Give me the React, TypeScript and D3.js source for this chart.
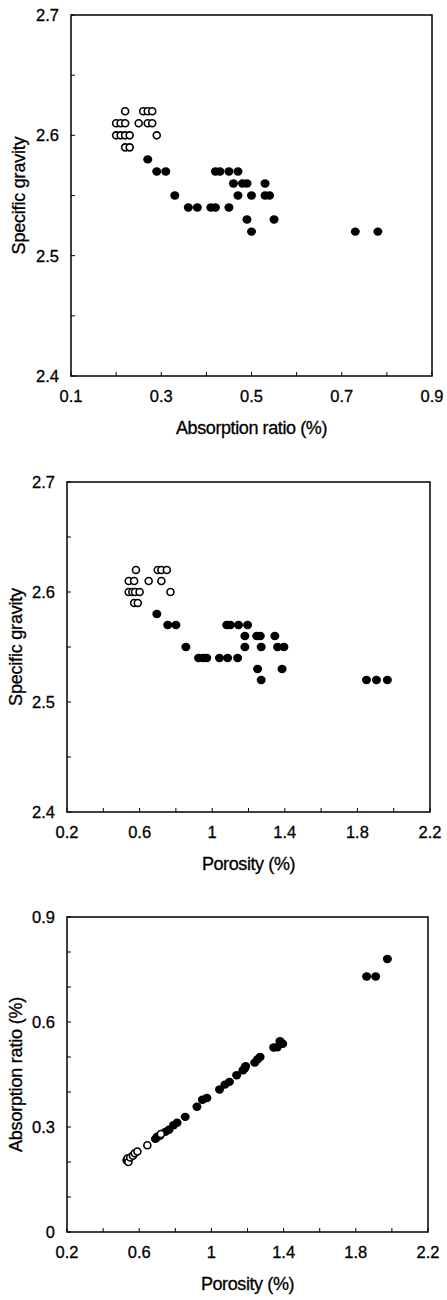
import React from "react";
import * as d3 from "d3";

// ---------- Plot 1: Absorption ratio (%) vs Specific gravity ----------
const p1OpenAbs = [0.22, 0.26, 0.27, 0.28, 0.2, 0.21, 0.22, 0.25, 0.27, 0.28, 0.2, 0.21, 0.22, 0.23, 0.29, 0.22, 0.23];
const p1OpenSG = [2.62, 2.62, 2.62, 2.62, 2.61, 2.61, 2.61, 2.61, 2.61, 2.61, 2.6, 2.6, 2.6, 2.6, 2.6, 2.59, 2.59];
const p1FillAbs = [0.27, 0.29, 0.31, 0.42, 0.43, 0.45, 0.47, 0.46, 0.48, 0.49, 0.53, 0.33, 0.47, 0.5, 0.53, 0.54, 0.36, 0.38, 0.41, 0.42, 0.45, 0.49, 0.55, 0.5, 0.73, 0.78];
const p1FillSG = [2.58, 2.57, 2.57, 2.57, 2.57, 2.57, 2.57, 2.56, 2.56, 2.56, 2.56, 2.55, 2.55, 2.55, 2.55, 2.55, 2.54, 2.54, 2.54, 2.54, 2.54, 2.53, 2.53, 2.52, 2.52, 2.52];

// ---------- Plot 2: Porosity (%) vs Specific gravity ----------
const p2OpenPor = [0.58, 0.7, 0.72, 0.75, 0.54, 0.57, 0.65, 0.72, 0.54, 0.56, 0.575, 0.6, 0.77, 0.57, 0.59];
const p2OpenSG = [2.62, 2.62, 2.62, 2.62, 2.61, 2.61, 2.61, 2.61, 2.6, 2.6, 2.6, 2.6, 2.6, 2.59, 2.59];
const p2FillPor = [0.695, 0.755, 0.8, 1.08, 1.1, 1.145, 1.195, 1.18, 1.245, 1.265, 1.345, 0.855, 1.18, 1.27, 1.36, 1.395, 0.925, 0.95, 0.97, 1.04, 1.085, 1.14, 1.25, 1.385, 1.27, 1.85, 1.905, 1.965];
const p2FillSG = [2.58, 2.57, 2.57, 2.57, 2.57, 2.57, 2.57, 2.56, 2.56, 2.56, 2.56, 2.55, 2.55, 2.55, 2.55, 2.55, 2.54, 2.54, 2.54, 2.54, 2.54, 2.54, 2.53, 2.53, 2.52, 2.52, 2.52, 2.52];

// ---------- Plot 3: Porosity (%) vs Absorption ratio (%) ----------
const p3OpenPor = [0.53, 0.535, 0.54, 0.55, 0.565, 0.575, 0.59, 0.645, 0.72];
const p3OpenAbs = [0.205, 0.21, 0.2, 0.213, 0.218, 0.225, 0.23, 0.248, 0.28];
const p3FillPor = [0.69, 0.7, 0.715, 0.745, 0.765, 0.79, 0.81, 0.855, 0.92, 0.95, 0.975, 1.045, 1.075, 1.1, 1.14, 1.175, 1.185, 1.19, 1.24, 1.255, 1.27, 1.345, 1.365, 1.38, 1.395, 1.86, 1.91, 1.975];
const p3FillAbs = [0.266, 0.272, 0.275, 0.286, 0.292, 0.305, 0.312, 0.329, 0.358, 0.378, 0.383, 0.407, 0.421, 0.429, 0.448, 0.462, 0.468, 0.474, 0.484, 0.493, 0.5, 0.527, 0.528, 0.545, 0.538, 0.73, 0.73, 0.78];

// ---------- Axis definitions ----------
const sgTicks = [2.4, 2.45, 2.5, 2.55, 2.6, 2.65, 2.7];
const sgLabels = [2.4, 2.5, 2.6, 2.7];
const absXTicks = [0.1, 0.2, 0.3, 0.4, 0.5, 0.6, 0.7, 0.8, 0.9];
const absXLabels = [0.1, 0.3, 0.5, 0.7, 0.9];
const porTicks = [0.2, 0.4, 0.6, 0.8, 1.0, 1.2, 1.4, 1.6, 1.8, 2.0, 2.2];
const porLabels = [0.2, 0.6, 1.0, 1.4, 1.8, 2.2];
const absYTicks = [0, 0.1, 0.2, 0.3, 0.4, 0.5, 0.6, 0.7, 0.8, 0.9];
const absYLabels = [0, 0.3, 0.6, 0.9];

const FONT = "'Liberation Sans', Arial, Helvetica, sans-serif";

type PanelProps = {
  left: number; right: number; top: number; bottom: number;
  xDomain: [number, number]; yDomain: [number, number];
  xTicks: number[]; xLabels: number[]; yTicks: number[]; yLabels: number[];
  xTitle: string; yTitle: string; yTitleX: number;
  openX: number[]; openY: number[]; fillX: number[]; fillY: number[];
};

const fmt = (v: number) => d3.format("~g")(+v.toFixed(3));

function Panel(p: PanelProps) {
  const x = d3.scaleLinear().domain(p.xDomain).range([p.left, p.right]);
  const y = d3.scaleLinear().domain(p.yDomain).range([p.bottom, p.top]);
  const tickLen = 4;
  const textStyle = { fontFamily: FONT, fill: "#000", stroke: "#000", strokeWidth: 0.3 };
  return (
    <g>
      <rect x={p.left} y={p.top} width={p.right - p.left} height={p.bottom - p.top}
        fill="none" stroke="#000" strokeWidth={1.5} />
      {p.xTicks.map((t, i) => (
        <line key={"xt" + i} x1={x(t)} x2={x(t)} y1={p.bottom} y2={p.bottom - tickLen} stroke="#000" strokeWidth={1} />
      ))}
      {p.yTicks.map((t, i) => (
        <line key={"yt" + i} x1={p.left} x2={p.left + tickLen} y1={y(t)} y2={y(t)} stroke="#000" strokeWidth={1} />
      ))}
      {p.xLabels.map((t, i) => (
        <text key={"xl" + i} x={x(t)} y={p.bottom + 26} textAnchor="middle" fontSize={16.5} style={textStyle}>{fmt(t)}</text>
      ))}
      {p.yLabels.map((t, i) => (
        <text key={"yl" + i} x={p.left - 12} y={y(t)} dy="0.36em" textAnchor="end" fontSize={16.5} style={textStyle}>{fmt(t)}</text>
      ))}
      <text x={(p.left + p.right) / 2} y={p.bottom + 58} textAnchor="middle" fontSize={18} letterSpacing={-0.4} style={textStyle}>{p.xTitle}</text>
      <text transform={`translate(${p.yTitleX},${(p.top + p.bottom) / 2}) rotate(-90)`} textAnchor="middle" fontSize={18} letterSpacing={-0.2} style={textStyle}>{p.yTitle}</text>
      {p.fillX.map((v, i) => (
        <ellipse key={"f" + i} cx={x(v)} cy={y(p.fillY[i])} rx={4.5} ry={4.2} fill="#000" />
      ))}
      {p.openX.map((v, i) => (
        <circle key={"o" + i} cx={x(v)} cy={y(p.openY[i])} r={3.5} fill="#fff" stroke="#000" strokeWidth={1.6} />
      ))}
    </g>
  );
}

export default function App() {
  return (
    <svg width={447} height={1300} style={{ position: "absolute", left: 0, top: 0, background: "#fff" }}>
      <rect x={0} y={0} width={447} height={1300} fill="#fff" />
      <Panel left={71} right={432} top={15} bottom={376}
        xDomain={[0.1, 0.9]} yDomain={[2.4, 2.7]}
        xTicks={absXTicks} xLabels={absXLabels} yTicks={sgTicks} yLabels={sgLabels}
        xTitle="Absorption ratio (%)" yTitle="Specific gravity" yTitleX={25}
        openX={p1OpenAbs} openY={p1OpenSG} fillX={p1FillAbs} fillY={p1FillSG} />
      <Panel left={67} right={430} top={482} bottom={812}
        xDomain={[0.2, 2.2]} yDomain={[2.4, 2.7]}
        xTicks={porTicks} xLabels={porLabels} yTicks={sgTicks} yLabels={sgLabels}
        xTitle="Porosity (%)" yTitle="Specific gravity" yTitleX={22}
        openX={p2OpenPor} openY={p2OpenSG} fillX={p2FillPor} fillY={p2FillSG} />
      <Panel left={67} right={428} top={917} bottom={1232}
        xDomain={[0.2, 2.2]} yDomain={[0, 0.9]}
        xTicks={porTicks} xLabels={porLabels} yTicks={absYTicks} yLabels={absYLabels}
        xTitle="Porosity (%)" yTitle="Absorption ratio (%)" yTitleX={22}
        openX={p3OpenPor} openY={p3OpenAbs} fillX={p3FillPor} fillY={p3FillAbs} />
    </svg>
  );
}
